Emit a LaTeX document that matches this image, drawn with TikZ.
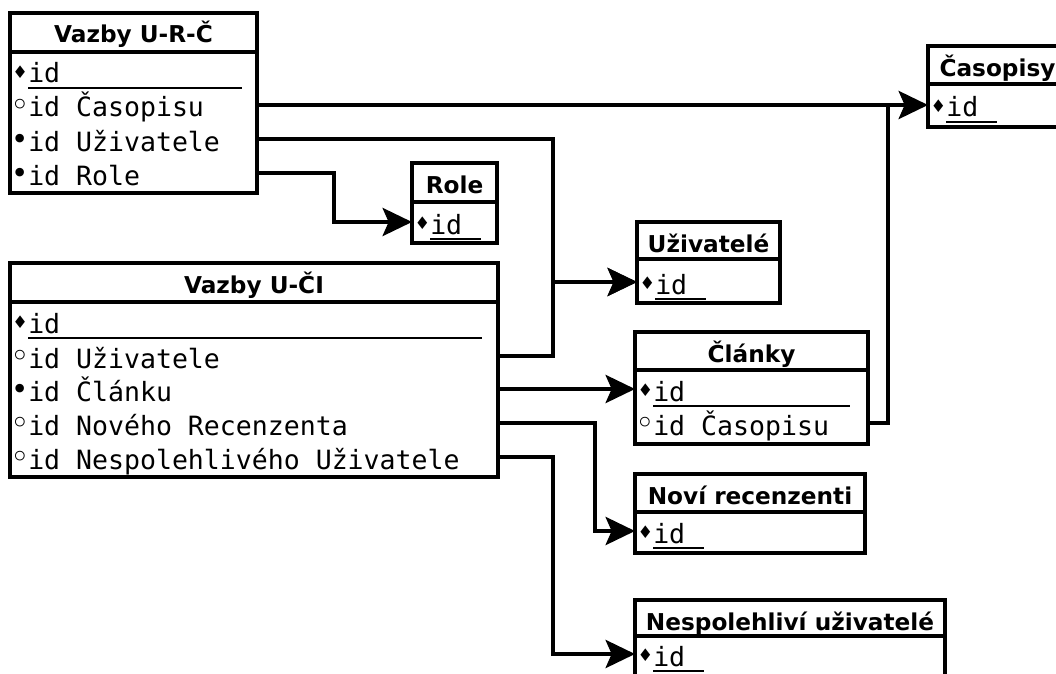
\documentclass[tikz,border=0pt]{standalone}
\usepackage{fontspec}
\setmonofont{DejaVu Sans Mono}
\newfontfamily\headfont{DejaVu Sans}
\newfontfamily\markfont{DejaVu Sans}
\usetikzlibrary{arrows.meta}

% one drawing unit is one pixel
\newcommand\px{0.75pt}

% column markers: primary key, not null, nullable
\newcommand\pkmark{\makebox[12pt]{\raisebox{3.2pt}{\markfont\fontsize{13}{13}\selectfont ♦}}}
\newcommand\nnmark{\makebox[12pt]{\raisebox{1pt}{\markfont\fontsize{22}{22}\selectfont •}}}
\newcommand\nlmark{\makebox[12pt]{\raisebox{0.2pt}{\markfont\fontsize{25}{25}\selectfont ◦}}}
% underlined key column
\newcommand\pkid[1]{\rlap{\rule[-4.5pt]{#1}{1.5pt}}id}

% name, left, top, right, separator, bottom, title
\newcommand\tablebox[7]{%
  \node[frame, anchor=north west, minimum width={(#4-#2)*\px}, minimum height={(#5-#3)*\px}] (#1-h) at (#2,#3) {};
  \node[frame, anchor=north west, minimum width={(#4-#2)*\px}, minimum height={(#6-#5)*\px}] (#1) at (#2,#5) {};
  \node[head, anchor=base] (#1-t) at ({(#2+#4)/2},{#3+30}) {#7};
}

\begin{document}
\begin{tikzpicture}[x=0.75pt,y=-0.75pt,
  frame/.style={draw, line width=3.3pt, inner sep=0pt, outer sep=0pt},
  head/.style={font=\headfont\bfseries\fontsize{17.4}{18}\selectfont, inner sep=0pt},
  attr/.style={anchor=west, inner sep=0pt, text height=18pt, text depth=0pt,
               font=\ttfamily\fontsize{19.9}{20}\selectfont},
  link/.style={line width=3.3pt},
  conn/.style={link, -{Stealth[length=22pt,width=21pt,inset=4.5pt]}}
]
\useasboundingbox (0,0) rectangle (1056,674);
\clip (0,0) rectangle (1056,674);
\fill[white] (0,0) rectangle (1056,674);

% tables
\tablebox{urc}{10}{13}{257}{52}{193}{Vazby U-R-Č}
\node[attr] (urc-id)   at (12,71)  {\pkmark\pkid{160.5pt}};
\node[attr] (urc-cas)  at (12,105) {\nlmark id Časopisu};
\node[attr] (urc-uz)   at (12,139) {\nnmark id Uživatele};
\node[attr] (urc-role) at (12,173) {\nnmark id Role};

\tablebox{role}{412}{163}{497}{202}{243}{Role}
\node[attr] (role-id) at (414,222) {\pkmark\pkid{38.25pt}};

\tablebox{cp}{928}{46}{1067}{84}{127}{Časopisy}
\node[attr] (cp-id) at (930,105) {\pkmark\pkid{38.25pt}};

\tablebox{uci}{10}{263}{498}{302}{477}{Vazby U-ČI}
\node[attr] (uci-id)  at (12,321) {\pkmark\pkid{340.5pt}};
\node[attr] (uci-uz)  at (12,356) {\nlmark id Uživatele};
\node[attr] (uci-cl)  at (12,389) {\nnmark id Článku};
\node[attr] (uci-nr)  at (12,423) {\nlmark id Nového Recenzenta};
\node[attr] (uci-nu)  at (12,457) {\nlmark id Nespolehlivého Uživatele};

\tablebox{uz}{637}{222}{780}{259}{303}{Uživatelé}
\node[attr] (uz-id) at (639,282) {\pkmark\pkid{38.25pt}};

\tablebox{cl}{635}{332}{868}{370}{444}{Články}
\node[attr] (cl-id)  at (637,389) {\pkmark\pkid{147.75pt}};
\node[attr] (cl-cas) at (637,423) {\nlmark id Časopisu};

\tablebox{nr}{635}{474}{865}{512}{553}{Noví recenzenti}
\node[attr] (nr-id) at (637,531) {\pkmark\pkid{38.25pt}};

\tablebox{nu}{635}{600}{945}{636}{700}{Nespolehliví uživatelé}
\node[attr] (nu-id) at (637,654) {\pkmark\pkid{38.25pt}};

% routing columns for the bent connectors
\coordinate (busR) at (334,0);
\coordinate (busA) at (553,0);
\coordinate (busN) at (595,0);
\coordinate (busC) at (888,0);

% references
\draw[conn] (urc-cas -| urc.east) -- (cp-id -| cp.west);
\draw[conn] (urc-uz -| urc.east) -- (urc-uz -| busA) -- (uz-id -| busA) -- (uz-id -| uz.west);
\draw[conn] (urc-role -| urc.east) -- (urc-role -| busR) -- (role-id -| busR) -- (role-id -| role.west);
\draw[conn] (uci-uz -| uci.east) -- (uci-uz -| busA) -- (uz-id -| busA) -- (uz-id -| uz.west);
\draw[conn] (uci-cl -| uci.east) -- (cl-id -| cl.west);
\draw[conn] (uci-nr -| uci.east) -- (uci-nr -| busN) -- (nr-id -| busN) -- (nr-id -| nr.west);
\draw[conn] (uci-nu -| uci.east) -- (uci-nu -| busA) -- (nu-id -| busA) -- (nu-id -| nu.west);
\draw[link] (cl-cas -| cl.east) -- (cl-cas -| busC) -- (cp-id -| busC);
\end{tikzpicture}
\end{document}
